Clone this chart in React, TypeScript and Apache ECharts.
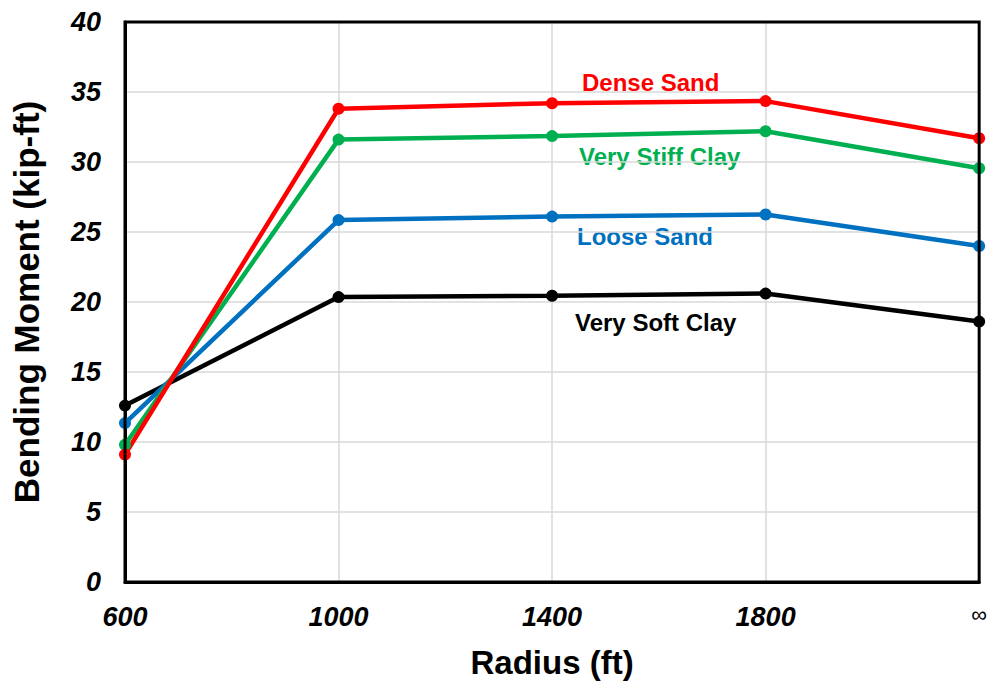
import React, { useEffect, useRef } from "react";
import * as echarts from "echarts";

const categories = ["600", "1000", "1400", "1800", "∞"];
const denseSand = [9.1, 33.8, 34.2, 34.35, 31.7];
const veryStiffClay = [9.8, 31.6, 31.85, 32.2, 29.55];
const looseSand = [11.35, 25.85, 26.1, 26.25, 24.0];
const verySoftClay = [12.6, 20.35, 20.45, 20.6, 18.6];
const yTicks = [0, 5, 10, 15, 20, 25, 30, 35, 40];

const FONT = "'Liberation Sans', Arial, sans-serif";

export default function App() {
  const ref = useRef<HTMLDivElement>(null);
  useEffect(() => {
    if (!ref.current) return;
    const chart = echarts.init(ref.current, null, { renderer: "svg" });
    const mk = (name: string, data: number[], color: string) => ({
      name,
      type: "line",
      data,
      symbol: "circle",
      symbolSize: 12,
      lineStyle: { color, width: 4.5 },
      itemStyle: { color },
      z: 3,
    });
    const lbl = (text: string, x: number, y: number, fill: string) => ({
      type: "text",
      x,
      y,
      style: { text, fill, font: `bold 24px ${FONT}`, textVerticalAlign: "middle", verticalAlign: "middle" },
    });
    chart.setOption({
      animation: false,
      backgroundColor: "#fff",
      textStyle: { fontFamily: FONT },
      grid: {
        left: 125,
        right: 10,
        top: 22,
        bottom: 104,
        show: true,
        borderColor: "#000",
        borderWidth: 3,
        backgroundColor: "transparent",
        z: 4,
      },
      xAxis: {
        type: "category",
        data: categories,
        boundaryGap: false,
        axisLine: { show: true, lineStyle: { color: "#000", width: 3 } },
        axisTick: { show: false },
        splitLine: { show: true, lineStyle: { color: "#d9d9d9", width: 1.5 } },
        axisLabel: {
          margin: 21,
          color: "#000",
          fontFamily: FONT,
          fontSize: 27,
          fontWeight: "bold",
          fontStyle: "italic",
          formatter: (v: string) => (v === "∞" ? "{inf|∞}" : v),
          rich: {
            inf: { fontSize: 22, fontWeight: "normal", fontStyle: "normal", color: "#000", fontFamily: FONT },
          },
        },
        name: "Radius (ft)",
        nameLocation: "middle",
        nameGap: 64,
        nameTextStyle: { color: "#000", fontFamily: FONT, fontSize: 33, fontWeight: "bold" },
      },
      yAxis: {
        type: "value",
        min: yTicks[0],
        max: yTicks[yTicks.length - 1],
        interval: 5,
        axisLine: { show: true, lineStyle: { color: "#000", width: 3 } },
        axisTick: { show: false },
        splitLine: { show: true, lineStyle: { color: "#d9d9d9", width: 1.5 } },
        axisLabel: {
          margin: 24,
          color: "#000",
          fontFamily: FONT,
          fontSize: 27,
          fontWeight: "bold",
          fontStyle: "italic",
        },
        name: "Bending Moment (kip-ft)",
        nameLocation: "middle",
        nameGap: 81,
        nameTextStyle: { color: "#000", fontFamily: FONT, fontSize: 35, fontWeight: "bold" },
      },
      graphic: [
        lbl("Dense Sand", 582, 82, "#ff0000"),
        lbl("Very Stiff Clay", 579, 156, "#00b050"),
        lbl("Loose Sand", 577, 236, "#0070c0"),
        lbl("Very Soft Clay", 575, 322, "#000000"),
      ],
      series: [
        mk("Very Soft Clay", verySoftClay, "#000000"),
        mk("Loose Sand", looseSand, "#0070c0"),
        mk("Very Stiff Clay", veryStiffClay, "#00b050"),
        mk("Dense Sand", denseSand, "#ff0000"),
      ],
    });
    return () => chart.dispose();
  }, []);
  return <div ref={ref} style={{ width: 990, height: 686, position: "absolute", left: 0, top: 0 }} />;
}
